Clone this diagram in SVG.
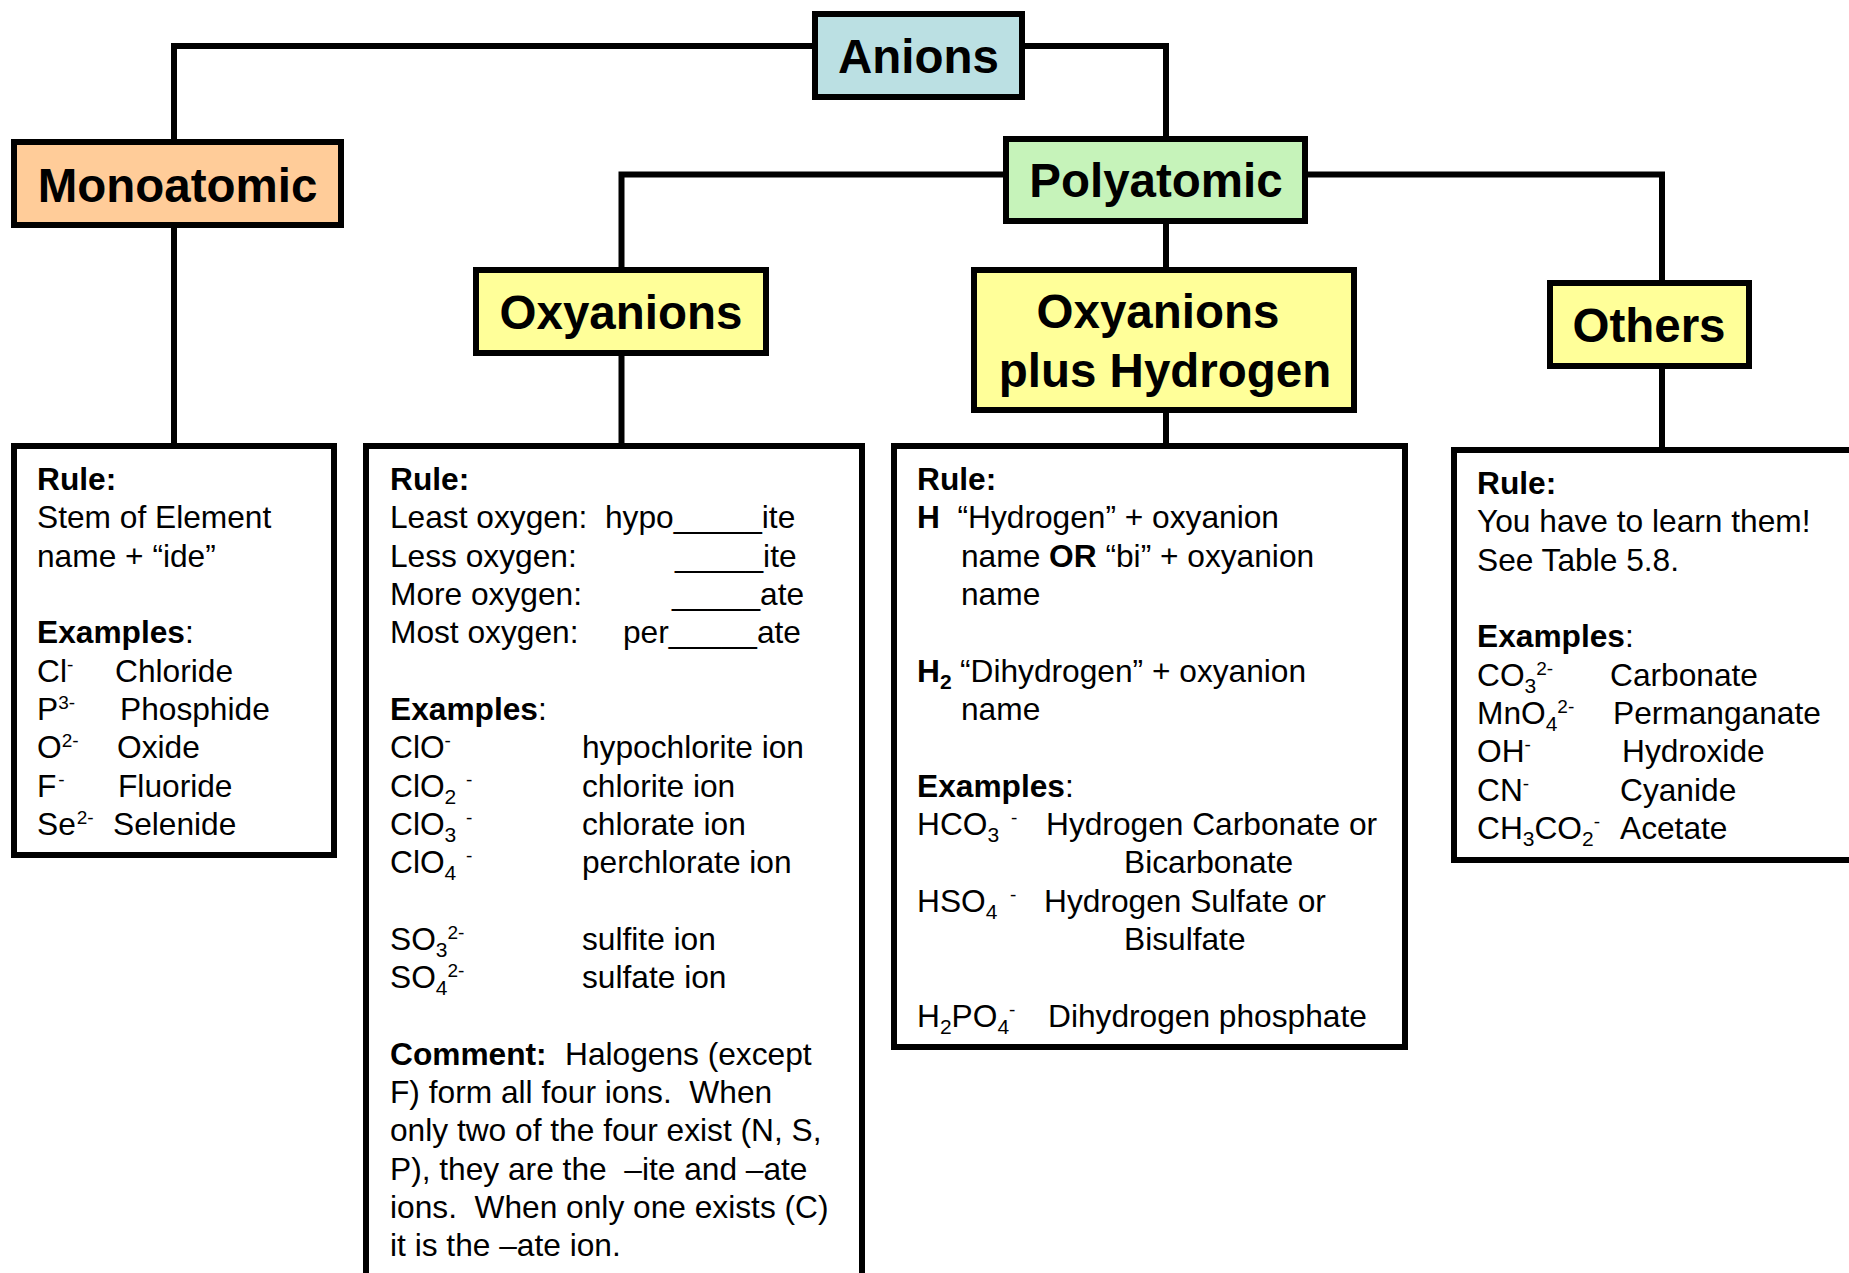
<svg xmlns="http://www.w3.org/2000/svg" width="1849" height="1273" viewBox="0 0 1849 1273">
<style>
.t{font-family:"Liberation Sans",Arial,sans-serif;font-size:31.7px;fill:#000}
.b{font-weight:bold}
.h{font-family:"Liberation Sans",Arial,sans-serif;font-size:47.5px;font-weight:bold;text-anchor:middle;fill:#000}
.sub{font-size:21px}
.sup{font-size:19px}
.box{stroke:#000;stroke-width:6}
.card{fill:#fff;stroke:#000;stroke-width:6}
.conn{fill:none;stroke:#000;stroke-width:6}
</style>
<rect width="1849" height="1273" fill="#fff"/>
<g id="connectors">
<path class="conn" d="M812,46 H174 V139"/>
<path class="conn" d="M1025,46 H1166 V136"/>
<path class="conn" d="M174,228 V443"/>
<path class="conn" d="M1003,174.5 H621.5 V267"/>
<path class="conn" d="M1308,174.5 H1662 V280"/>
<path class="conn" d="M1166,224 V267"/>
<path class="conn" d="M621.5,356 V443"/>
<path class="conn" d="M1166,413 V443"/>
<path class="conn" d="M1662,369 V447"/>
</g>
<g id="anions">
<rect class="box" x="815" y="14" width="207" height="83" fill="#BBE0E3"/>
<text class="h" x="918.5" y="73">Anions</text>
</g>
<g id="monoatomic">
<rect class="box" x="14" y="142" width="327" height="83" fill="#FFCC99"/>
<text class="h" x="177.5" y="202">Monoatomic</text>
</g>
<g id="polyatomic">
<rect class="box" x="1006" y="139" width="299" height="82" fill="#C6F3BA"/>
<text class="h" x="1156" y="197">Polyatomic</text>
</g>
<g id="oxyanions">
<rect class="box" x="476" y="270" width="290" height="83" fill="#FFFF99"/>
<text class="h" x="621" y="329">Oxyanions</text>
</g>
<g id="oxyanions-plus-hydrogen">
<rect class="box" x="974" y="270" width="380" height="140" fill="#FFFF99"/>
<text class="h" x="1158" y="328">Oxyanions</text>
<text class="h" x="1165" y="387">plus Hydrogen</text>
</g>
<g id="others">
<rect class="box" x="1550" y="283" width="199" height="83" fill="#FFFF99"/>
<text class="h" x="1649" y="342">Others</text>
</g>
<g id="monoatomic-rules">
<rect class="card" x="14" y="446" width="320" height="409"/>
<text class="t b" x="37" y="490">Rule:</text>
<text class="t" x="37" y="528.3">Stem of Element</text>
<text class="t" x="37" y="566.6">name + “ide”</text>
<text class="t" x="37" y="643.3"><tspan class="b">Examples</tspan>:</text>
<text class="t" x="37" y="681.6">Cl<tspan class="sup" dy="-11">-</tspan></text>
<text class="t" x="115" y="681.6">Chloride</text>
<text class="t" x="37" y="719.9">P<tspan class="sup" dy="-11">3-</tspan></text>
<text class="t" x="120" y="719.9">Phosphide</text>
<text class="t" x="37" y="758.2">O<tspan class="sup" dy="-11">2-</tspan></text>
<text class="t" x="117" y="758.2">Oxide</text>
<text class="t" x="37" y="796.6">F<tspan class="sup" dx="2" dy="-11">-</tspan></text>
<text class="t" x="118" y="796.6">Fluoride</text>
<text class="t" x="37" y="834.9">Se<tspan class="sup" dx="1" dy="-11">2-</tspan></text>
<text class="t" x="113" y="834.9">Selenide</text>
</g>
<g id="oxyanions-rules">
<rect class="card" x="366" y="446" width="496" height="900"/>
<text class="t b" x="390" y="490">Rule:</text>
<text class="t" x="390" y="528.3">Least oxygen:</text>
<text class="t" x="605" y="528.3">hypo_____ite</text>
<text class="t" x="390" y="566.6">Less oxygen:</text>
<text class="t" x="675" y="566.6">_____ite</text>
<text class="t" x="390" y="605">More oxygen:</text>
<text class="t" x="672" y="605">_____ate</text>
<text class="t" x="390" y="643.3">Most oxygen:</text>
<text class="t" x="623" y="643.3">per_____ate</text>
<text class="t" x="390" y="720"><tspan class="b">Examples</tspan>:</text>
<text class="t" x="390" y="758.2">ClO<tspan class="sup" dy="-11">-</tspan></text>
<text class="t" x="582" y="758.2">hypochlorite ion</text>
<text class="t" x="390" y="796.6">ClO<tspan class="sub" dy="7">2</tspan><tspan class="sup" x="466" dy="-18">-</tspan></text>
<text class="t" x="582" y="796.6">chlorite ion</text>
<text class="t" x="390" y="834.9">ClO<tspan class="sub" dy="7">3</tspan><tspan class="sup" x="466" dy="-18">-</tspan></text>
<text class="t" x="582" y="834.9">chlorate ion</text>
<text class="t" x="390" y="873.2">ClO<tspan class="sub" dy="7">4</tspan><tspan class="sup" x="466" dy="-18">-</tspan></text>
<text class="t" x="582" y="873.2">perchlorate ion</text>
<text class="t" x="390" y="949.8">SO<tspan class="sub" dy="7">3</tspan><tspan class="sup" dy="-18">2-</tspan></text>
<text class="t" x="582" y="949.8">sulfite ion</text>
<text class="t" x="390" y="988.2">SO<tspan class="sub" dy="7">4</tspan><tspan class="sup" dy="-18">2-</tspan></text>
<text class="t" x="582" y="988.2">sulfate ion</text>
<text class="t" x="390" y="1064.8"><tspan class="b">Comment:</tspan><tspan x="565">Halogens (except</tspan></text>
<text class="t" x="390" y="1103.1" xml:space="preserve">F) form all four ions.  When</text>
<text class="t" x="390" y="1141.4">only two of the four exist (N, S,</text>
<text class="t" x="390" y="1179.8" xml:space="preserve">P), they are the  –ite and –ate</text>
<text class="t" x="390" y="1218.1" xml:space="preserve">ions.  When only one exists (C)</text>
<text class="t" x="390" y="1256.4">it is the –ate ion.</text>
</g>
<g id="oxyanions-plus-hydrogen-rules">
<rect class="card" x="894" y="446" width="511" height="601"/>
<text class="t b" x="917" y="490">Rule:</text>
<text class="t b" x="917" y="528.3">H</text>
<text class="t" x="957.5" y="528.3">“Hydrogen” + oxyanion</text>
<text class="t" x="961" y="566.6" xml:space="preserve">name <tspan class="b">OR</tspan> “bi” + oxyanion</text>
<text class="t" x="961" y="605">name</text>
<text class="t b" x="917" y="681.6">H<tspan class="sub" dy="7">2</tspan></text>
<text class="t" x="960" y="681.6">“Dihydrogen” + oxyanion</text>
<text class="t" x="961" y="719.9">name</text>
<text class="t" x="917" y="796.6"><tspan class="b">Examples</tspan>:</text>
<text class="t" x="917" y="834.9">HCO<tspan class="sub" dy="7">3</tspan><tspan class="sup" x="1011" dy="-18">-</tspan></text>
<text class="t" x="1046" y="834.9">Hydrogen Carbonate or</text>
<text class="t" x="1124" y="873.2">Bicarbonate</text>
<text class="t" x="917" y="911.5">HSO<tspan class="sub" dy="7">4</tspan><tspan class="sup" x="1010" dy="-18">-</tspan></text>
<text class="t" x="1044" y="911.5">Hydrogen Sulfate or</text>
<text class="t" x="1124" y="949.8">Bisulfate</text>
<text class="t" x="917" y="1026.5">H<tspan class="sub" dy="7">2</tspan><tspan dy="-7">PO</tspan><tspan class="sub" dy="7">4</tspan><tspan class="sup" dy="-18">-</tspan></text>
<text class="t" x="1048" y="1026.5">Dihydrogen phosphate</text>
</g>
<g id="others-rules">
<rect class="card" x="1454" y="450" width="450" height="410"/>
<text class="t b" x="1477" y="494">Rule:</text>
<text class="t" x="1477" y="532.3">You have to learn them!</text>
<text class="t" x="1477" y="570.6">See Table 5.8.</text>
<text class="t" x="1477" y="647.3"><tspan class="b">Examples</tspan>:</text>
<text class="t" x="1477" y="685.6">CO<tspan class="sub" dy="7">3</tspan><tspan class="sup" dy="-18">2-</tspan></text>
<text class="t" x="1610" y="685.6">Carbonate</text>
<text class="t" x="1477" y="723.9">MnO<tspan class="sub" dy="7">4</tspan><tspan class="sup" dy="-18">2-</tspan></text>
<text class="t" x="1613" y="723.9">Permanganate</text>
<text class="t" x="1477" y="762.2">OH<tspan class="sup" dy="-11">-</tspan></text>
<text class="t" x="1622" y="762.2">Hydroxide</text>
<text class="t" x="1477" y="800.6">CN<tspan class="sup" dy="-11">-</tspan></text>
<text class="t" x="1620" y="800.6">Cyanide</text>
<text class="t" x="1477" y="838.9">CH<tspan class="sub" dy="7">3</tspan><tspan dy="-7">CO</tspan><tspan class="sub" dy="7">2</tspan><tspan class="sup" dy="-18">-</tspan></text>
<text class="t" x="1620" y="838.9">Acetate</text>
</g>
</svg>
